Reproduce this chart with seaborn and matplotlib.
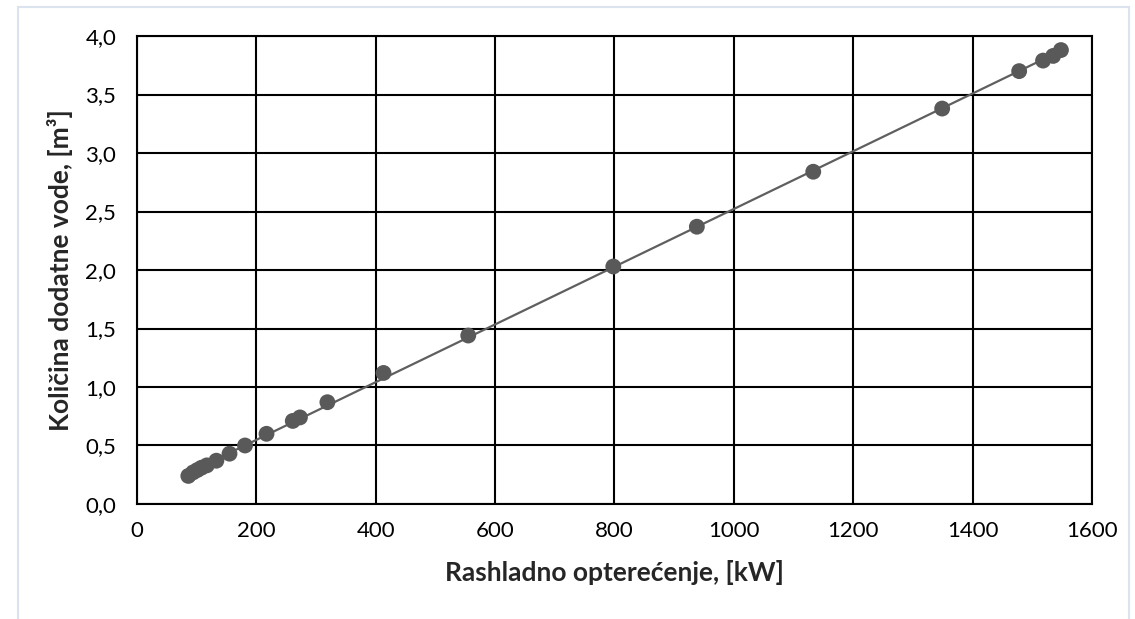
import numpy as np
import pandas as pd
import seaborn as sns
import matplotlib.pyplot as plt
from matplotlib.ticker import FuncFormatter, MultipleLocator
from matplotlib.patches import Rectangle

# cooling load [kW] and make-up water [m3]
load_kw = [86, 94, 101, 108, 117, 133, 155, 181, 217, 261, 273, 319,
           413, 555, 798, 938, 1133, 1349, 1478, 1518, 1535, 1548]
water_m3 = [0.24, 0.27, 0.29, 0.31, 0.33, 0.37, 0.43, 0.50, 0.60, 0.71, 0.74, 0.87,
            1.12, 1.44, 2.03, 2.37, 2.84, 3.38, 3.70, 3.79, 3.83, 3.88]

x_label = "Rashladno opterećenje, [kW]"
y_label = "Količina dodatne vode, [m³]"

df = pd.DataFrame({"load": load_kw, "water": water_m3})

# linear trendline over the data range
k, n = np.polyfit(df["load"], df["water"], 1)
trend = pd.DataFrame({"load": [df["load"].min(), df["load"].max()]})
trend["water"] = k * trend["load"] + n

sns.set_style("white")
plt.rcParams["font.family"] = ["Lato", "DejaVu Sans"]

fig = plt.figure(figsize=(11.35, 6.19), dpi=100)
ax = fig.add_axes([0.1207, 0.1858, 0.8414, 0.756])

sns.lineplot(data=trend, x="load", y="water", ax=ax, color="#5f5f5f", linewidth=1.6, zorder=3)
sns.scatterplot(data=df, x="load", y="water", ax=ax, color="#595959", s=130,
                edgecolor="none", zorder=4)

ax.set_xlim(0, 1600)
ax.set_ylim(0, 4.0)
ax.xaxis.set_major_locator(MultipleLocator(200))
ax.yaxis.set_major_locator(MultipleLocator(0.5))
ax.yaxis.set_major_formatter(FuncFormatter(lambda v, p: f"{v:.1f}".replace(".", ",")))
ax.grid(True, color="black", linewidth=1.5, zorder=0)
ax.set_axisbelow(True)
for s in ax.spines.values():
    s.set_color("black")
    s.set_linewidth(1.5)
ax.tick_params(length=0, labelsize=16, colors="black")
ax.tick_params(axis="x", pad=12)
ax.tick_params(axis="y", pad=15)

ax.set_xlabel(x_label, fontsize=19, fontweight="bold", labelpad=14)
ax.set_ylabel(y_label, fontsize=19, fontweight="bold", labelpad=9)

fig.patches.append(Rectangle((18 / 1135, -0.05), 1 - 24 / 1135, 1.038,
                             transform=fig.transFigure, fill=False,
                             edgecolor="#dbe4ee", linewidth=1.5))

fig.savefig("out.png", dpi=100)
